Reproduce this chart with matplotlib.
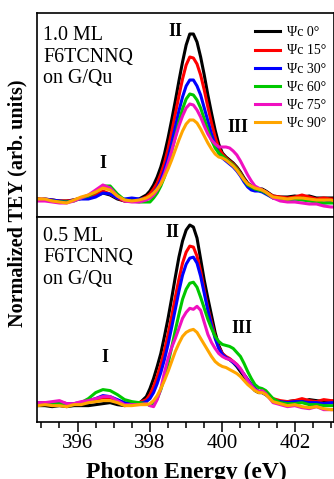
import numpy as np
import matplotlib
matplotlib.use("Agg")
import matplotlib.pyplot as plt
from matplotlib.ticker import MultipleLocator

plt.rcParams['font.family'] = ['Liberation Serif', 'DejaVu Serif']

# photon energy grid (eV), shared by all spectra
energy = [394.9, 395.1, 395.3, 395.5, 395.7, 395.9, 396.1, 396.3, 396.5, 396.7, 396.9, 397.1, 397.3, 397.5, 397.7,
          397.9, 398.0, 398.1, 398.2, 398.3, 398.4, 398.5, 398.6, 398.7, 398.8, 398.9, 399.0, 399.1, 399.2, 399.3,
          399.4, 399.5, 399.6, 399.7, 399.8, 399.9, 400.0, 400.1, 400.2, 400.3, 400.4, 400.5, 400.6, 400.7, 400.8,
          400.9, 401.0, 401.1, 401.2,
          401.4, 401.6, 401.8, 402.0, 402.2, 402.4, 402.6, 402.8, 403.0, 403.1]

angles = ["0", "15", "30", "60", "75", "90"]
colors = ["black", "#ff0000", "#0000ff", "#00c800", "#f010c0", "#ffa500"]

# 1.0 ML film
tey_10_0 = [0.01, 0.00, 0.00, -0.01, -0.01, 0.00, 0.02, 0.03, 0.04, 0.07, 0.05, 0.01, -0.01, 0.00, 0.01,
            0.05, 0.09, 0.15, 0.23, 0.33, 0.46, 0.62, 0.80, 0.99, 1.19, 1.38, 1.55, 1.66, 1.66, 1.58, 1.43, 1.25,
            1.05, 0.87, 0.70, 0.56, 0.47, 0.43, 0.40, 0.37, 0.33, 0.28, 0.22, 0.17, 0.14, 0.12, 0.11, 0.11, 0.09,
            0.04, 0.03, 0.03, 0.04, 0.03, 0.04, 0.02, 0.02, 0.02, 0.02]
tey_10_15 = [0.01, 0.01, 0.00, -0.01, -0.01, 0.00, 0.02, 0.03, 0.05, 0.09, 0.06, 0.02, -0.01, -0.01, 0.00,
             0.03, 0.06, 0.11, 0.17, 0.26, 0.37, 0.51, 0.68, 0.86, 1.04, 1.21, 1.35, 1.43, 1.42, 1.36, 1.25, 1.10,
             0.93, 0.77, 0.63, 0.52, 0.46, 0.42, 0.39, 0.36, 0.32, 0.27, 0.21, 0.16, 0.13, 0.11, 0.10, 0.10, 0.08,
             0.04, 0.03, 0.02, 0.03, 0.05, 0.03, 0.01, 0.02, 0.01, 0.01]
tey_10_30 = [0.00, 0.01, 0.00, -0.01, -0.02, 0.00, 0.01, 0.01, 0.03, 0.07, 0.06, 0.02, 0.01, 0.02, 0.01,
             0.01, 0.03, 0.07, 0.12, 0.20, 0.30, 0.42, 0.57, 0.73, 0.89, 1.03, 1.14, 1.20, 1.20, 1.14, 1.05, 0.92,
             0.79, 0.66, 0.55, 0.47, 0.42, 0.39, 0.36, 0.33, 0.29, 0.24, 0.18, 0.13, 0.10, 0.09, 0.09, 0.08, 0.06,
             0.02, 0.01, 0.00, 0.01, 0.01, 0.00, -0.02, -0.03, -0.02, -0.02]
tey_10_60 = [0.00, 0.00, -0.01, -0.02, -0.02, -0.01, 0.02, 0.04, 0.08, 0.14, 0.14, 0.06, 0.00, -0.01, -0.02,
             -0.02, -0.02, 0.02, 0.07, 0.14, 0.23, 0.35, 0.49, 0.63, 0.78, 0.91, 1.01, 1.06, 1.05, 1.00, 0.92, 0.81,
             0.70, 0.60, 0.52, 0.47, 0.44, 0.41, 0.38, 0.35, 0.31, 0.26, 0.20, 0.15, 0.13, 0.11, 0.10, 0.09, 0.07,
             0.02, 0.01, 0.00, 0.01, 0.00, -0.01, -0.02, -0.03, -0.03, -0.03]
tey_10_75 = [-0.01, -0.01, -0.02, -0.03, -0.03, -0.01, 0.02, 0.05, 0.10, 0.15, 0.12, 0.04, -0.01, -0.02, -0.02,
             0.00, 0.02, 0.05, 0.10, 0.17, 0.26, 0.37, 0.49, 0.62, 0.74, 0.84, 0.92, 0.96, 0.95, 0.90, 0.83, 0.74,
             0.66, 0.60, 0.56, 0.53, 0.53, 0.53, 0.52, 0.49, 0.45, 0.39, 0.32, 0.25, 0.19, 0.14, 0.12, 0.10, 0.08,
             0.02, -0.01, -0.02, -0.02, -0.03, -0.04, -0.04, -0.06, -0.07, -0.07]
tey_10_90 = [0.01, 0.01, -0.01, -0.02, -0.03, 0.00, 0.03, 0.05, 0.08, 0.12, 0.10, 0.04, 0.00, -0.01, 0.00,
             0.02, 0.04, 0.07, 0.11, 0.16, 0.23, 0.31, 0.40, 0.50, 0.60, 0.69, 0.76, 0.80, 0.80, 0.77, 0.71, 0.64,
             0.57, 0.51, 0.46, 0.43, 0.42, 0.40, 0.37, 0.34, 0.30, 0.25, 0.20, 0.16, 0.14, 0.12, 0.11, 0.10, 0.08,
             0.03, 0.02, 0.01, 0.02, 0.02, 0.01, 0.00, 0.00, 0.00, -0.01]

# 0.5 ML film
tey_05_0 = [-0.01, -0.01, -0.02, -0.01, -0.02, -0.01, -0.01, -0.01, 0.00, 0.01, 0.02, 0.00, -0.01, 0.00, 0.01,
            0.08, 0.16, 0.26, 0.38, 0.51, 0.68, 0.86, 1.06, 1.27, 1.47, 1.63, 1.74, 1.79, 1.77, 1.66, 1.45, 1.24,
            1.06, 0.89, 0.72, 0.59, 0.51, 0.47, 0.45, 0.42, 0.38, 0.33, 0.28, 0.23, 0.18, 0.14, 0.12, 0.12, 0.10,
            0.05, 0.03, 0.03, 0.04, 0.03, 0.05, 0.04, 0.03, 0.03, 0.03]
tey_05_15 = [0.02, 0.02, 0.01, 0.03, 0.01, 0.01, 0.02, 0.03, 0.05, 0.07, 0.07, 0.04, 0.01, 0.01, 0.02,
             0.05, 0.10, 0.18, 0.28, 0.40, 0.54, 0.70, 0.88, 1.07, 1.25, 1.41, 1.52, 1.58, 1.57, 1.48, 1.33, 1.14,
             0.96, 0.82, 0.68, 0.57, 0.51, 0.48, 0.46, 0.43, 0.40, 0.35, 0.30, 0.25, 0.20, 0.16, 0.13, 0.13, 0.11,
             0.06, 0.04, 0.03, 0.04, 0.06, 0.04, 0.03, 0.05, 0.04, 0.04]
tey_05_30 = [0.02, 0.01, 0.02, 0.02, 0.01, 0.01, 0.02, 0.04, 0.06, 0.09, 0.08, 0.05, 0.02, 0.01, 0.01,
             0.03, 0.06, 0.12, 0.21, 0.32, 0.45, 0.60, 0.77, 0.95, 1.13, 1.29, 1.40, 1.46, 1.47, 1.41, 1.28, 1.11,
             0.94, 0.79, 0.66, 0.56, 0.50, 0.47, 0.45, 0.42, 0.39, 0.35, 0.30, 0.25, 0.20, 0.16, 0.13, 0.12, 0.10,
             0.04, 0.03, 0.02, 0.03, 0.03, 0.02, 0.02, 0.01, 0.02, 0.02]
tey_05_60 = [0.01, 0.00, 0.01, 0.01, 0.00, 0.00, 0.02, 0.06, 0.12, 0.15, 0.14, 0.10, 0.05, 0.03, 0.02,
             0.01, -0.01, 0.00, 0.06, 0.15, 0.27, 0.41, 0.57, 0.74, 0.90, 1.05, 1.15, 1.21, 1.22, 1.17, 1.07, 0.96,
             0.85, 0.76, 0.68, 0.63, 0.60, 0.59, 0.58, 0.56, 0.52, 0.48, 0.41, 0.33, 0.26, 0.20, 0.17, 0.16, 0.14,
             0.06, 0.02, 0.01, 0.01, 0.02, 0.00, 0.00, -0.01, -0.01, -0.01]
tey_05_75 = [0.02, 0.02, 0.03, 0.04, 0.01, 0.01, 0.03, 0.04, 0.06, 0.08, 0.08, 0.04, 0.00, 0.00, 0.00,
             0.01, -0.01, -0.02, 0.05, 0.16, 0.32, 0.46, 0.57, 0.66, 0.76, 0.86, 0.92, 0.96, 0.95, 0.98, 0.94, 0.82,
             0.70, 0.62, 0.56, 0.51, 0.48, 0.46, 0.45, 0.43, 0.40, 0.36, 0.30, 0.24, 0.19, 0.15, 0.13, 0.14, 0.11,
             0.02, 0.00, -0.02, -0.01, -0.03, -0.04, -0.02, -0.05, -0.05, -0.05]
tey_05_90 = [-0.01, 0.00, -0.01, -0.01, -0.02, 0.00, 0.00, 0.02, 0.03, 0.04, 0.04, 0.02, -0.01, -0.01, 0.00,
             0.00, 0.01, 0.04, 0.09, 0.16, 0.24, 0.33, 0.43, 0.53, 0.61, 0.68, 0.72, 0.74, 0.75, 0.72, 0.66, 0.60,
             0.54, 0.48, 0.43, 0.40, 0.38, 0.37, 0.35, 0.33, 0.31, 0.28, 0.24, 0.20, 0.17, 0.14, 0.12, 0.12, 0.10,
             0.03, 0.01, -0.01, 0.00, -0.02, -0.03, -0.02, -0.04, -0.05, -0.05]

spectra_10 = [tey_10_0, tey_10_15, tey_10_30, tey_10_60, tey_10_75, tey_10_90]
spectra_05 = [tey_05_0, tey_05_15, tey_05_30, tey_05_60, tey_05_75, tey_05_90]

fig = plt.figure(figsize=(3.34, 4.79), dpi=100)
ax1 = fig.add_axes([37/334, 1 - 217/479, 296.5/334, 204/479])
ax2 = fig.add_axes([37/334, 1 - 421.7/479, 296.5/334, 204.7/479])

for ax, spectra in [(ax1, spectra_10), (ax2, spectra_05)]:
    for s, c, a in zip(spectra, colors, angles):
        ax.plot(energy, s, color=c, lw=2.2, label="Ψc " + a + "°", solid_joinstyle='round')
    ax.set_xlim(394.88, 403.07)
    ax.set_ylim(-0.17, 1.87)
    ax.set_yticks([])
    for sp in ax.spines.values():
        sp.set_linewidth(1.2)

ax1.set_xticks([])
ax2.xaxis.set_major_locator(MultipleLocator(2))
ax2.xaxis.set_minor_locator(MultipleLocator(0.5))
ax2.tick_params(axis='x', which='major', direction='out', length=7, width=1.1, labelsize=15, pad=1.5)
ax2.tick_params(axis='x', which='minor', direction='out', length=4.3, width=1.1)

leg = ax1.legend(loc='upper right', bbox_to_anchor=(0.977, 0.935), frameon=False, fontsize=10,
                 handlelength=1.87, handletextpad=0.5, labelspacing=0.37, borderpad=0, borderaxespad=0)

# sample labels
ax1.text(0.02, 0.784, "1.0 ML\nF6TCNNQ\non G/Qu", transform=ax1.transAxes, fontsize=14.4,
         va='center', ha='left', linespacing=1.15)
ax2.text(0.02, 0.80, "0.5 ML\nF6TCNNQ\non G/Qu", transform=ax2.transAxes, fontsize=14.4,
         va='center', ha='left', linespacing=1.15)

# peak labels
peak_style = dict(fontsize=13, fontweight='bold', ha='center', va='center')
ax1.text(398.69, 1.68, "II", **peak_style)
ax1.text(396.70, 0.36, "I", **peak_style)
ax1.text(400.43, 0.73, "III", **peak_style)
ax2.text(398.61, 1.72, "II", **peak_style)
ax2.text(396.76, 0.47, "I", **peak_style)
ax2.text(400.54, 0.76, "III", **peak_style)

fig.text(17/334, 1 - 203/479, "Normalized TEY (arb. units)", rotation=90, fontsize=14.5,
         fontweight='bold', ha='center', va='center')
fig.text(186/334, 0.003, "Photon Energy (eV)", fontsize=17, fontweight='bold', ha='center', va='baseline')

fig.savefig("out.png", dpi=100)
